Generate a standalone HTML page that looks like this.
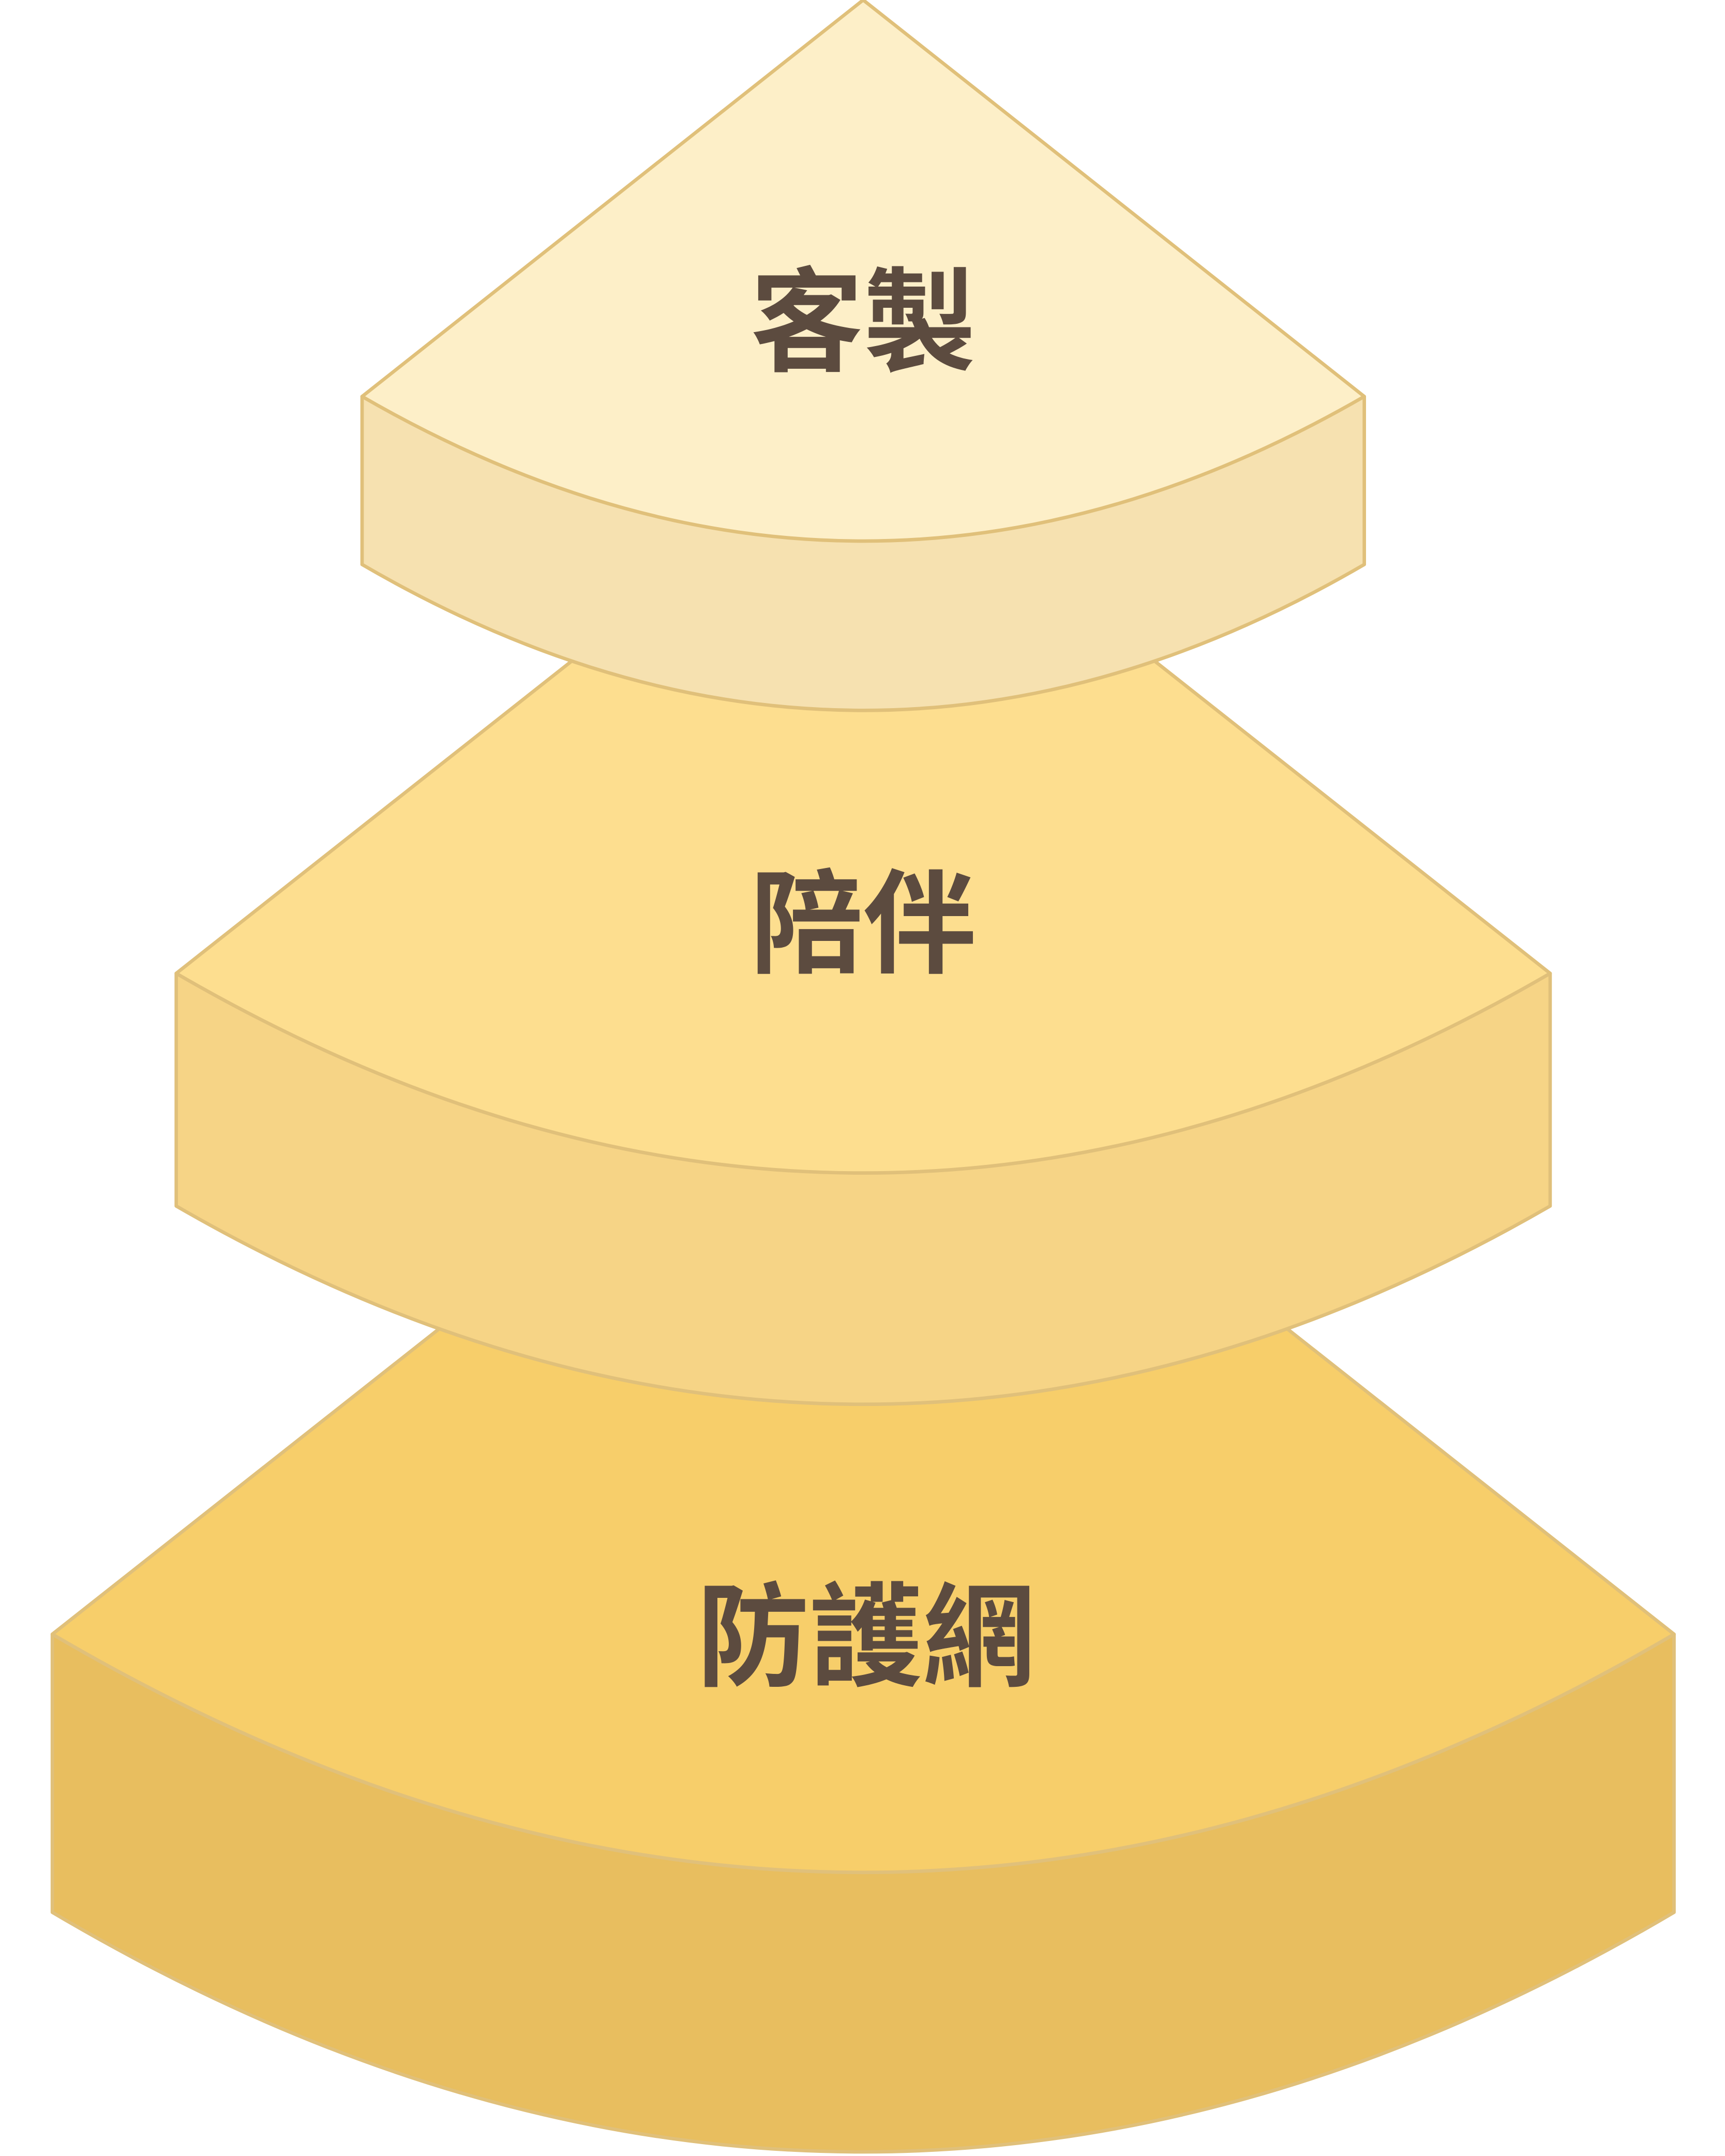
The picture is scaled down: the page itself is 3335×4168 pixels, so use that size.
<!DOCTYPE html>
<html><head><meta charset="utf-8">
<style>
html,body{margin:0;padding:0;background:#fff;}
svg{display:block;}
text{font-family:"Liberation Sans","Noto Sans CJK TC",sans-serif;font-weight:bold;fill:#5C4B3F;}
</style></head>
<body>
<svg width="3335" height="4168" viewBox="0 0 1253 1566" xmlns="http://www.w3.org/2000/svg">
<g stroke="#E0C07A" stroke-width="2.5" stroke-linejoin="round">
  <!-- bottom layer -->
  <path d="M38,1187 L38,1389 Q627,1737 1216,1389 L1216,1187 Z" fill="#E8BE5F"/>
  <path d="M627,722 L1216,1187 Q627,1533 38,1187 Z" fill="#F7CE6A"/>
  <!-- middle layer -->
  <path d="M128,707 L128,876 Q627,1164 1126,876 L1126,707 Z" fill="#F6D486"/>
  <path d="M627,313 L1126,707 Q627,997 128,707 Z" fill="#FDDE8F"/>
  <!-- top layer -->
  <path d="M263,288 L263,410 Q627,622 991,410 L991,288 Z" fill="#F6E1B0"/>
  <path d="M627,0 L991,288 Q627,498 263,288 Z" fill="#FDEFC8"/>
</g>
<text x="627" y="263" font-size="82" text-anchor="middle">客製</text>
<text x="627" y="700" font-size="82" text-anchor="middle">陪伴</text>
<text x="629" y="1218" font-size="82" text-anchor="middle">防護網</text>
</svg>
</body></html>
